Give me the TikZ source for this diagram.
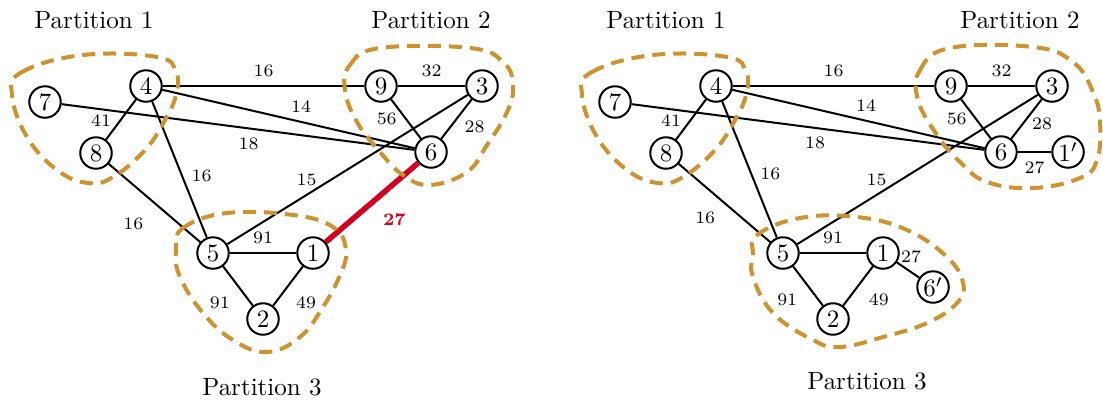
\documentclass[tikz,border=0pt]{standalone}
\definecolor{partorange}{RGB}{206,146,46}
\definecolor{cutred}{RGB}{212,0,32}

\begin{document}
\begin{tikzpicture}[thick, x=0.4pt, y=-0.4pt,
    vertex/.style={circle, draw, minimum size=12.6pt, inner sep=0pt},
    w/.style={font=\scriptsize},
    part/.style={draw=partorange, line width=1.6pt, dash pattern=on 5.2pt off 3.2pt}]
  \useasboundingbox (0,0) rectangle (1103,401);

  % graph with the cut edge
  \node[vertex] (v7) at (45,102) {$7$};
  \node[vertex] (v4) at (146,86) {$4$};
  \node[vertex] (v8) at (96,153) {$8$};
  \node[vertex] (v9) at (381,86) {$9$};
  \node[vertex] (v3) at (482,86) {$3$};
  \node[vertex] (v6) at (431,152) {$6$};
  \node[vertex] (v5) at (213,253) {$5$};
  \node[vertex] (v1) at (313,253) {$1$};
  \node[vertex] (v2) at (263,319) {$2$};

  \node (p1) at (94,20) {Partition 1};
  \node (p2) at (431,20) {Partition 2};
  \node (p3) at (262,387) {Partition 3};

  \draw (v4) -- node[w, above] {16} (v9);
  \draw (v9) -- node[w, above] {32} (v3);
  \draw (v4) -- node[w, pos=0.55, above] {14} (v6);
  \draw (v7) -- node[w, pos=0.53, below] {18} (v6);
  \draw (v9) -- node[w, pos=0.5, left] {56} (v6);
  \draw (v3) -- node[w, pos=0.7, right=2pt] {28} (v6);
  \draw (v4) -- node[w, pos=0.52, left] {41} (v8);
  \draw (v4) -- node[w, pos=0.55, right] {16} (v5);
  \draw (v8) -- node[w, pos=0.52, below left=1.5pt] {16} (v5);
  \draw (v3) -- node[w, pos=0.67, above] {15} (v5);
  \draw (v5) -- node[w, above] {91} (v1);
  \draw (v5) -- node[w, pos=0.54, below left] {91} (v2);
  \draw (v1) -- node[w, pos=0.54, below right] {49} (v2);
  \draw[cutred, line width=2.2pt] (v1) -- node[w, font=\scriptsize\bfseries, below right] {27} (v6);

  \draw[part] plot[smooth cycle, tension=0.7] coordinates {(12,95) (22,72) (83,55) (157,57) (176,72) (176,95)
    (165,120) (145,150) (113,177) (88,183) (57,170) (27,137)};
  \draw[part] plot[smooth cycle, tension=0.7] coordinates {(345,90) (350,65) (380,48) (470,48) (503,62) (513,85)
    (507,112) (487,145) (467,172) (430,185) (403,175) (380,152) (357,122)};
  \draw[part] plot[smooth cycle, tension=0.7] coordinates {(176,250) (183,228) (227,213) (293,215) (333,227) (346,250)
    (340,275) (323,307) (300,337) (267,352) (233,340) (203,313) (180,277)};

  % graph after splitting the edge
  \node[vertex] (w7) at (615,102) {$7$};
  \node[vertex] (w4) at (716,86) {$4$};
  \node[vertex] (w8) at (666,153) {$8$};
  \node[vertex] (w9) at (951,86) {$9$};
  \node[vertex] (w3) at (1052,86) {$3$};
  \node[vertex] (w6) at (1001,152) {$6$};
  \node[vertex] (w1p) at (1068,152) {$1'$};
  \node[vertex] (w5) at (783,253) {$5$};
  \node[vertex] (w1) at (883,253) {$1$};
  \node[vertex] (w2) at (833,319) {$2$};
  \node[vertex] (w6p) at (933,287) {$6'$};

  \node (q1) at (666,20) {Partition 1};
  \node (q2) at (1020,20) {Partition 2};
  \node (q3) at (867,381) {Partition 3};

  \draw (w4) -- node[w, above] {16} (w9);
  \draw (w9) -- node[w, above] {32} (w3);
  \draw (w4) -- node[w, pos=0.53, above] {14} (w6);
  \draw (w7) -- node[w, pos=0.52, below] {18} (w6);
  \draw (w9) -- node[w, pos=0.5, left] {56} (w6);
  \draw (w3) -- node[w, pos=0.62, right] {28} (w6);
  \draw (w6) -- node[w, below] {27} (w1p);
  \draw (w4) -- node[w, pos=0.52, left] {41} (w8);
  \draw (w4) -- node[w, pos=0.53, right] {16} (w5);
  \draw (w8) -- node[w, pos=0.5, below left] {16} (w5);
  \draw (w3) -- node[w, pos=0.67, above] {15} (w5);
  \draw (w5) -- node[w, above] {91} (w1);
  \draw (w5) -- node[w, pos=0.45, below left] {91} (w2);
  \draw (w1) -- node[w, pos=0.45, below right] {49} (w2);
  \draw (w1) -- node[w, pos=0.64, above] {27} (w6p);

  \draw[part] plot[smooth cycle, tension=0.7] coordinates {(582,95) (592,72) (653,55) (727,57) (746,72) (746,95)
    (735,120) (715,150) (683,177) (658,183) (627,170) (597,137)};
  \draw[part] plot[smooth cycle, tension=0.7] coordinates {(918,100) (920,70) (950,48) (1033,47) (1073,62) (1093,92)
    (1100,122) (1097,160) (1080,178) (1033,188) (987,182) (960,162) (937,135)};
  \draw[part] plot[smooth cycle, tension=0.7] coordinates {(753,255) (757,235) (800,218) (857,217) (907,230) (947,257)
    (963,283) (957,303) (927,323) (883,337) (840,347) (813,340) (773,313) (753,277)};
\end{tikzpicture}
\end{document}
